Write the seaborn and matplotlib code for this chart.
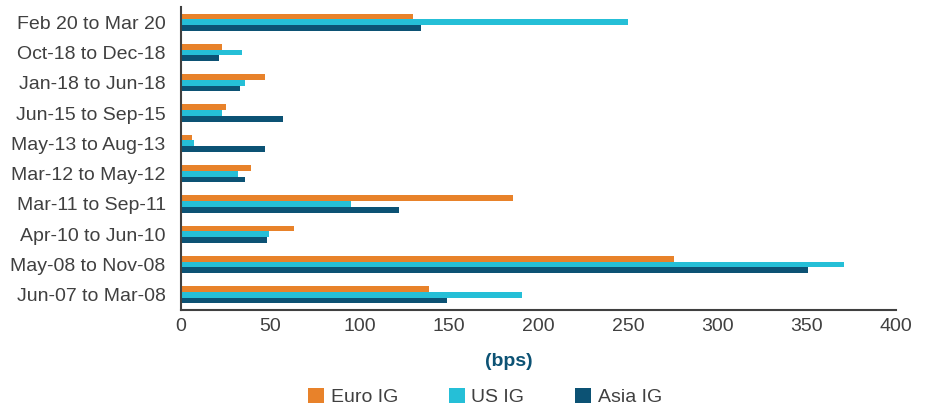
import matplotlib
matplotlib.use("Agg")
import matplotlib.pyplot as plt
import seaborn as sns
import pandas as pd

periods = ["Feb 20 to Mar 20", "Oct-18 to Dec-18", "Jan-18 to Jun-18", "Jun-15 to Sep-15",
           "May-13 to Aug-13", "Mar-12 to May-12", "Mar-11 to Sep-11", "Apr-10 to Jun-10",
           "May-08 to Nov-08", "Jun-07 to Mar-08"]
euro_ig = [130, 23, 47, 25, 6, 39, 186, 63, 276, 139]
us_ig = [250, 34, 36, 23, 7, 32, 95, 49, 371, 191]
asia_ig = [134, 21, 33, 57, 47, 36, 122, 48, 351, 149]
series = ["Euro IG", "US IG", "Asia IG"]
colors = ["#E8822A", "#25BFD7", "#0C5274"]

rows = []
for name, vals in zip(series, [euro_ig, us_ig, asia_ig]):
    for p, v in zip(periods, vals):
        rows.append({"period": p, "series": name, "bps": v})
df = pd.DataFrame(rows)

sns.set_theme(style="white")
plt.rcParams["font.family"] = ["Liberation Sans", "DejaVu Sans"]

fig = plt.figure(figsize=(9.27, 4.07), dpi=100)
ax = fig.add_axes([181/927, 1 - 310/407, (896-181)/927, (310-7)/407])
sns.barplot(data=df, y="period", x="bps", hue="series", order=periods, hue_order=series,
            palette=colors, saturation=1, orient="h", width=0.57, gap=0, linewidth=0,
            ax=ax, legend=True)

ax.set_xlim(0, 400)
ax.set_ylim(9.5, -0.5)
ax.set_xticks(range(0, 401, 50))
ax.tick_params(axis="y", length=0, labelsize=14, colors="#404040", pad=11)
ax.tick_params(axis="x", length=0, labelsize=14, colors="#404040", pad=6)
ax.set_ylabel("")
ax.set_xlabel("(bps)", fontsize=14, fontweight="bold", color="#0C5274")
ax.xaxis.set_label_coords((509 - 181) / 715, -(361 - 310) / (310 - 7), transform=ax.transAxes)
ax.xaxis.label.set_verticalalignment("center")
for s in ["top", "right"]:
    ax.spines[s].set_visible(False)
for s in ["left", "bottom"]:
    ax.spines[s].set_color("#404040")
    ax.spines[s].set_linewidth(1.5)

h, l = ax.get_legend_handles_labels()
ax.get_legend().remove()
fig.legend(h, l, loc="center", bbox_to_anchor=(485/927, 1 - 397/407), ncol=3, frameon=False,
           fontsize=14, handlelength=0.82, handleheight=0.82, columnspacing=2.6,
           handletextpad=0.35, labelcolor="#404040")

fig.savefig("out.png", dpi=100)
